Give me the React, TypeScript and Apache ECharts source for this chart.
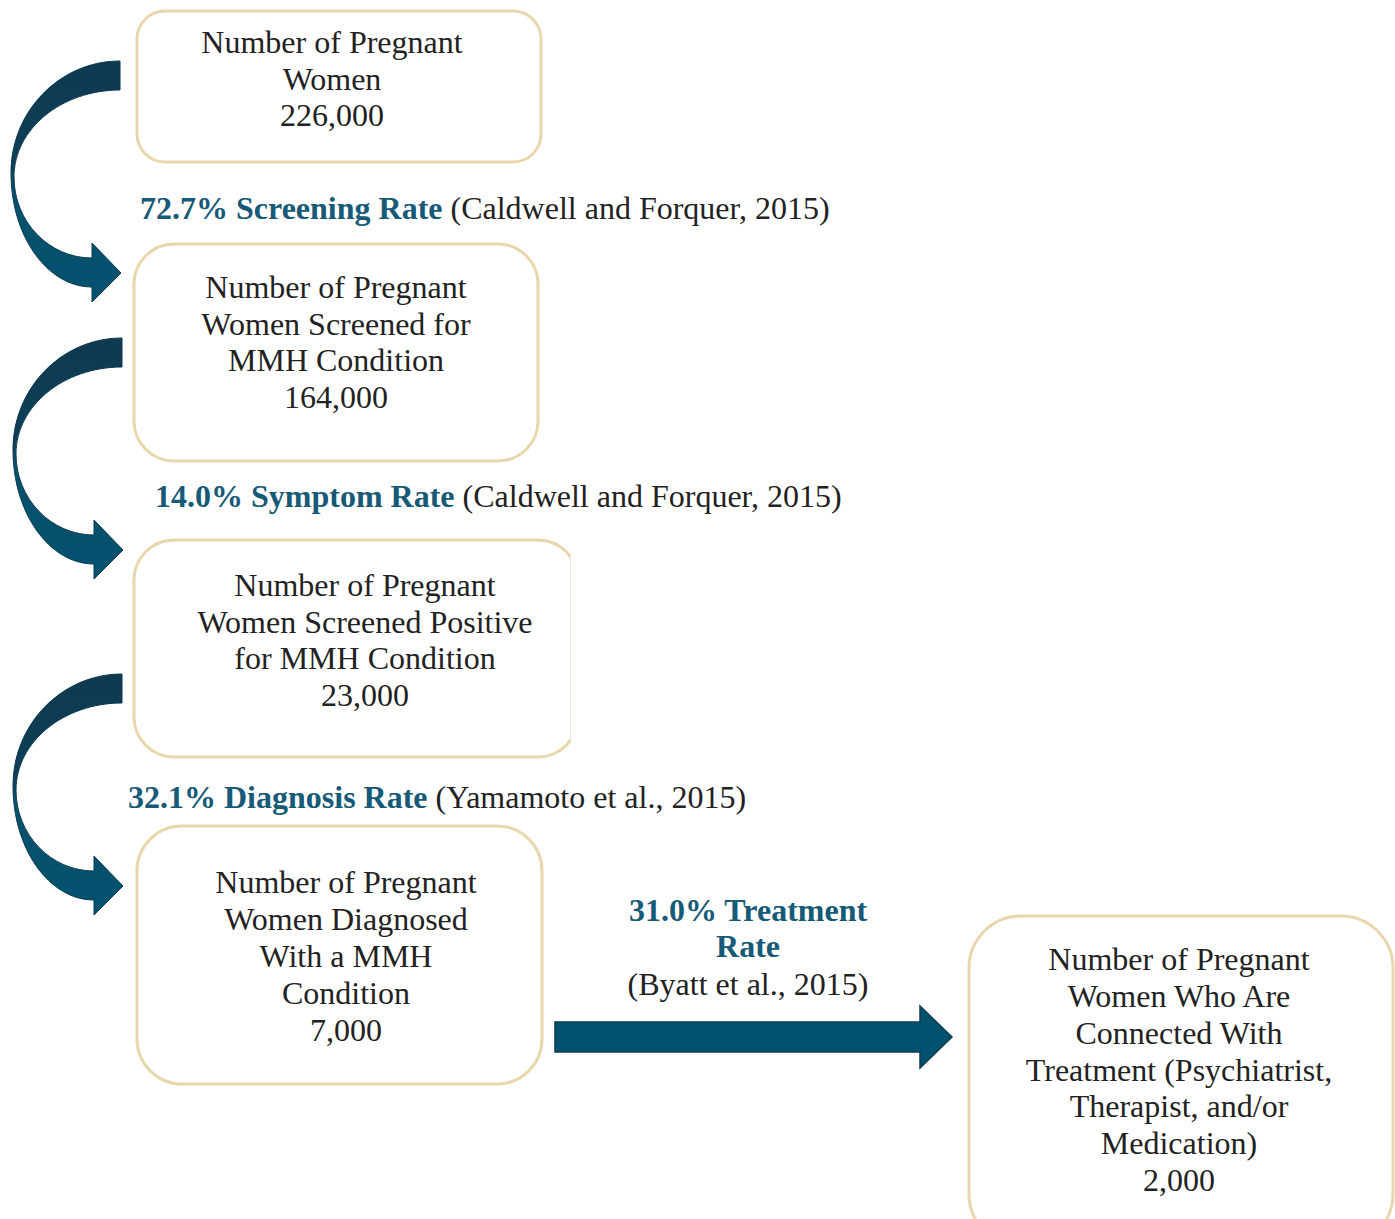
import React, { useEffect, useRef } from "react";
import * as echarts from "echarts";

// ---- data ----
const stageTitles: string[][] = [
  ["Number of Pregnant", "Women"],
  ["Number of Pregnant", "Women Screened for", "MMH Condition"],
  ["Number of Pregnant", "Women Screened Positive", "for MMH Condition"],
  ["Number of Pregnant", "Women Diagnosed", "With a MMH", "Condition"],
  ["Number of Pregnant", "Women Who Are", "Connected With", "Treatment (Psychiatrist,", "Therapist, and/or", "Medication)"],
];
const stageCounts: string[] = ["226,000", "164,000", "23,000", "7,000", "2,000"];
const rateValues: string[] = ["72.7%", "14.0%", "32.1%", "31.0%"];
const rateNames: string[] = ["Screening Rate", "Symptom Rate", "Diagnosis Rate", "Treatment Rate"];
const rateSources: string[] = [
  "(Caldwell and Forquer, 2015)",
  "(Caldwell and Forquer, 2015)",
  "(Yamamoto et al., 2015)",
  "(Byatt et al., 2015)",
];

// ---- layout (positions/styles) ----
const FONT = "'Liberation Serif', 'Times New Roman', serif";
const FS = 32;
const LH = 36.8;
const TEAL = "#165a77";
const TXT = "#222222";
const BORDER = "#e8d7ad";

const boxes = [
  { x: 137, y: 11, w: 404, h: 151, r: 28, cx: 332, cy: 78.5 },
  { x: 134, y: 244, w: 404, h: 217, r: 40, cx: 336, cy: 342 },
  { x: 134, y: 540, w: 444, h: 217, r: 40, cx: 365, cy: 640 },
  { x: 137, y: 826, w: 405, h: 258, r: 45, cx: 346, cy: 956 },
  { x: 969, y: 916, w: 424, h: 330, r: 52, cx: 1179, cy: 1069.5 },
];

const rateLabelPos = [
  { x: 140, y: 208 },
  { x: 155, y: 496 },
  { x: 128, y: 797 },
];

const arrowOffsets = [
  { x: 0, y: 61 },
  { x: 2, y: 338 },
  { x: 2, y: 674 },
];

const CURVE_D =
  "M 120 0 C 59.8 0 11 50.1 11 112 C 11 175 47.3 226 92 226 L 92 241 L 121 212 L 92 182 L 92 197 C 48.9 197 14 160.7 14 116 C 14 68 61.5 29 120 29 Z";

let registered = false;
function registerShapes() {
  if (registered) return;
  echarts.graphic.registerShape("curvedArrow", (echarts.graphic as any).extendPath(CURVE_D, {}));
  registered = true;
}

export default function App() {
  const ref = useRef<HTMLDivElement>(null);
  useEffect(() => {
    if (!ref.current) return;
    registerShapes();
    const chart = echarts.init(ref.current, undefined, { renderer: "svg" });
    const elements: any[] = [];

    // curved arrows
    arrowOffsets.forEach((o) => {
      elements.push({
        type: "curvedArrow",
        x: o.x,
        y: o.y,
        style: {
          fill: {
            type: "linear",
            x: 0,
            y: 0,
            x2: 0,
            y2: 1,
            colorStops: [
              { offset: 0, color: "#0e3a51" },
              { offset: 0.44, color: "#0f3e56" },
              { offset: 0.53, color: "#06506d" },
              { offset: 1, color: "#03526f" },
            ],
          },
          stroke: "#0b3a4f",
          lineWidth: 1,
        },
      });
    });

    // straight arrow
    elements.push({
      type: "polygon",
      shape: {
        points: [
          [555, 1022],
          [920, 1022],
          [920, 1006],
          [952, 1037],
          [920, 1068],
          [920, 1052],
          [555, 1052],
        ],
      },
      style: { fill: "#02516f", stroke: "#0c3c52", lineWidth: 1.5 },
    });

    // boxes
    boxes.forEach((b, i) => {
      elements.push({
        type: "rect",
        shape: { x: b.x, y: b.y, width: b.w, height: b.h, r: b.r },
        style: { fill: "#ffffff", stroke: BORDER, lineWidth: 3 },
      });
      if (i === 2) {
        elements.push({
          type: "rect",
          shape: { x: 571, y: 530, width: 50, height: 240 },
          style: { fill: "#ffffff" },
        });
        elements.push({
          type: "line",
          shape: { x1: 570.5, y1: 556, x2: 570.5, y2: 741 },
          style: { stroke: "#ece6d8", lineWidth: 1 },
        });
      }
      const lines = [...stageTitles[i], stageCounts[i]];
      elements.push({
        type: "text",
        style: {
          text: lines.join("\n"),
          x: b.cx,
          y: b.cy,
          align: "center",
          verticalAlign: "middle",
          fontFamily: FONT,
          fontSize: FS,
          lineHeight: LH,
          fill: TXT,
        },
      });
    });

    // rate labels (inline)
    rateLabelPos.forEach((p, i) => {
      elements.push({
        type: "text",
        style: {
          text: `{b|${rateValues[i]} ${rateNames[i]}}{n| ${rateSources[i]}}`,
          x: p.x,
          y: p.y,
          align: "left",
          verticalAlign: "middle",
          rich: {
            b: { fontFamily: FONT, fontSize: FS, fontWeight: "bold", fill: TEAL },
            n: { fontFamily: FONT, fontSize: FS, fill: TXT },
          },
        },
      });
    });

    // treatment rate label (stacked)
    const tWords = rateNames[3].split(" ");
    const tLines = [
      { t: `${rateValues[3]} ${tWords[0]}`, y: 910, bold: true },
      { t: tWords[1], y: 946, bold: true },
      { t: rateSources[3], y: 984, bold: false },
    ];
    tLines.forEach((l) => {
      elements.push({
        type: "text",
        style: {
          text: l.t,
          x: 748,
          y: l.y,
          align: "center",
          verticalAlign: "middle",
          fontFamily: FONT,
          fontSize: FS,
          fontWeight: l.bold ? "bold" : "normal",
          fill: l.bold ? TEAL : TXT,
        },
      });
    });

    chart.setOption({
      animation: false,
      backgroundColor: "#ffffff",
      graphic: { elements },
    });
    return () => chart.dispose();
  }, []);
  return (
    <div
      ref={ref}
      style={{ position: "absolute", left: 0, top: 0, width: 1395, height: 1219 }}
    />
  );
}
